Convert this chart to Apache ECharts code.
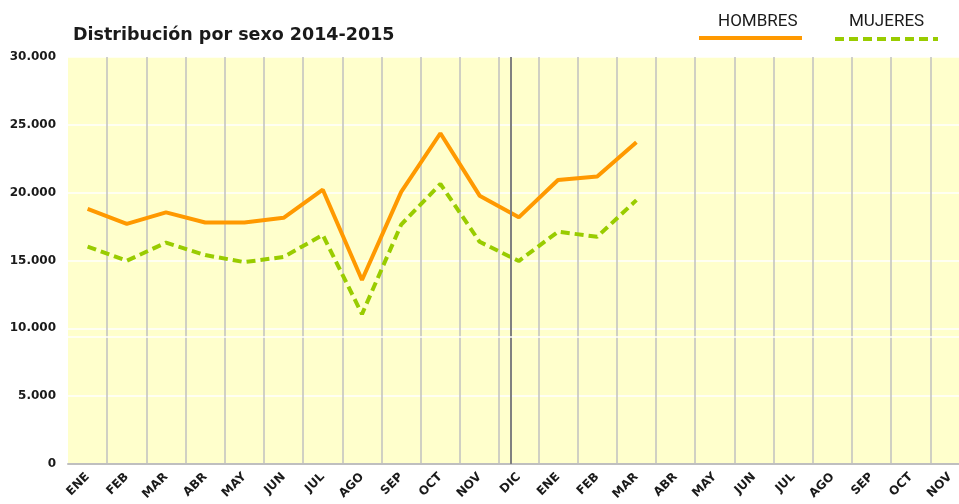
<!DOCTYPE html>
<html>
<head>
<meta charset="utf-8">
<script src="https://cdn.jsdelivr.net/npm/echarts@6/dist/echarts.min.js"></script>
<style>
  html, body { margin: 0; padding: 0; background: #fff; }
  #chart { width: 959px; height: 504px; }
</style>
</head>
<body>
<div id="chart"></div>
<script>
// meses ENE 2014 .. NOV 2015
const months = ['ENE', 'FEB', 'MAR', 'ABR', 'MAY', 'JUN', 'JUL', 'AGO', 'SEP', 'OCT', 'NOV', 'DIC',
  'ENE', 'FEB', 'MAR', 'ABR', 'MAY', 'JUN', 'JUL', 'AGO', 'SEP', 'OCT', 'NOV'];
const hombres = [18800, 17700, 18550, 17800, 17800, 18150, 20220, 13560, 20060, 24380, 19780, 18180, 20930, 21200, 23710];
const mujeres = [16020, 14980, 16320, 15400, 14880, 15260, 16880, 11050, 17650, 20640, 16380, 14960, 17120, 16750, 19450];
const yearBreak = 10.79;   // linea oscura entre NOV y DIC
const extraLine = 9350;    // linea blanca suelta bajo 10.000

const chart = echarts.init(document.getElementById('chart'));

const fmt = v => String(v).replace(/\B(?=(\d{3})+(?!\d))/g, '.');

const option = {
  animation: false,
  title: [
    {
      text: 'Distribución por sexo 2014-2015',
      left: 68, top: 21,
      textStyle: { fontFamily: 'DejaVu Sans', fontSize: 17.5, fontWeight: 'bold', color: '#1a1a1a' }
    },
    {
      text: 'HOMBRES', left: 713, top: 8,
      textStyle: { fontFamily: 'Roboto', fontSize: 17, fontWeight: 'normal', color: '#1a1a1a' }
    },
    {
      text: 'MUJERES', left: 844, top: 8,
      textStyle: { fontFamily: 'Roboto', fontSize: 17, fontWeight: 'normal', color: '#1a1a1a' }
    }
  ],
  legend: [
    {
      data: ['HOMBRES'], left: 692, top: 29,
      itemWidth: 103, itemHeight: 8, formatter: () => '', selectedMode: false,
      lineStyle: { width: 4 }, itemStyle: { opacity: 0 }
    },
    {
      data: ['MUJERES'], left: 828, top: 30,
      itemWidth: 103, itemHeight: 8, formatter: () => '', selectedMode: false,
      lineStyle: { width: 4 }, itemStyle: { opacity: 0 }
    }
  ],
  grid: {
    left: 68, top: 57, width: 901.6, height: 407,
    outerBoundsMode: 'none',
    containLabel: false,
    show: true, backgroundColor: '#FFFFCC', borderWidth: 0
  },
  xAxis: [
    {
      type: 'category',
      data: months,
      boundaryGap: true,
      axisLine: { lineStyle: { color: '#BFBFBF', width: 2 } },
      axisTick: { alignWithLabel: true, length: 4, lineStyle: { color: '#BFBFBF' } },
      axisLabel: {
        rotate: 45, margin: 11, interval: 0,
        fontFamily: 'DejaVu Sans', fontSize: 12, fontWeight: 'bold', color: '#1a1a1a'
      },
      splitLine: { show: true, showMinLine: false, lineStyle: { color: '#C0C0C0', width: 1.5 } }
    },
    {
      type: 'value', min: -0.5, max: 22.5, show: false
    }
  ],
  yAxis: {
    type: 'value',
    min: 0, max: 30000, interval: 5000,
    axisLine: { show: false },
    axisTick: { show: false },
    axisLabel: {
      margin: 12, formatter: fmt,
      fontFamily: 'DejaVu Sans', fontSize: 12, fontWeight: 'bold', color: '#1a1a1a'
    },
    splitLine: { lineStyle: { color: '#FFFFFF', width: 1.5 } }
  },
  series: [
    {
      name: 'divisor',
      type: 'line',
      xAxisIndex: 1,
      data: [],
      z: 1,
      markLine: {
        silent: true,
        symbol: 'none',
        label: { show: false },
        data: [
          { xAxis: yearBreak, lineStyle: { color: '#808080', width: 2, type: 'solid' } },
          { yAxis: extraLine, lineStyle: { color: '#FFFFFF', width: 1.5, type: 'solid' } }
        ]
      }
    },
    {
      name: 'HOMBRES',
      type: 'line',
      data: hombres,
      symbol: 'none',
      z: 3,
      color: '#FF9900',
      lineStyle: { color: '#FF9900', width: 4 }
    },
    {
      name: 'MUJERES',
      type: 'line',
      data: mujeres,
      symbol: 'none',
      z: 3,
      color: '#99CC00',
      lineStyle: { color: '#99CC00', width: 4, type: [9, 5] }
    }
  ]
};

chart.setOption(option);
</script>
</body>
</html>
